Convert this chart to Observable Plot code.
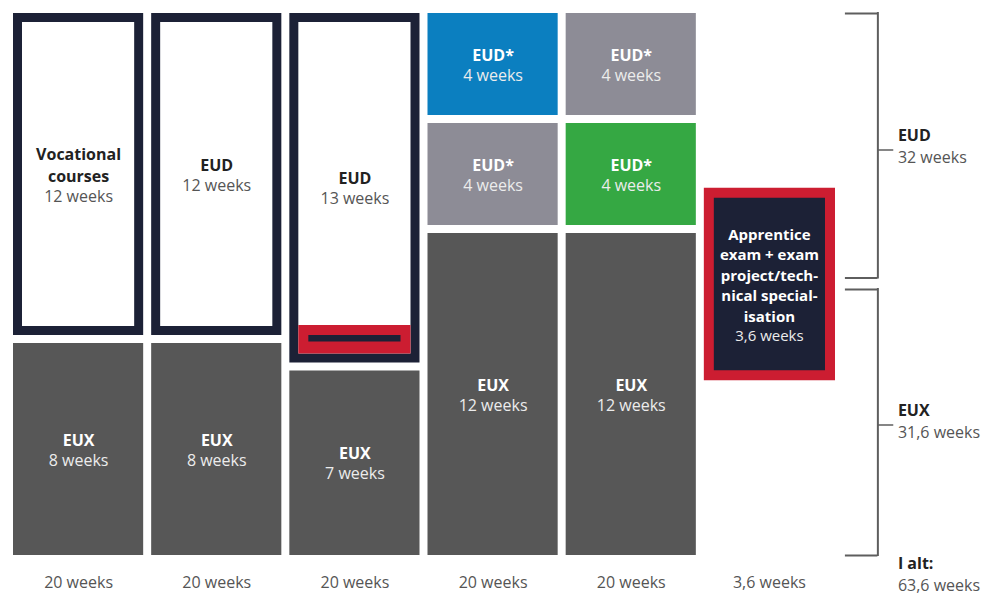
<!DOCTYPE html>
<html><head><meta charset="utf-8">
<script src="https://cdn.jsdelivr.net/npm/d3@7"></script>
<script src="https://cdn.jsdelivr.net/npm/@observablehq/plot@0.6"></script>
<style>body{margin:0;background:#fff} #chart{width:989px;height:601px}</style>
</head><body><div id="chart"></div>
<script>
// ---- data ----
const columnIndex  = [0, 1, 2, 3, 4, 5];
const columnTotals = ["20 weeks", "20 weeks", "20 weeks", "20 weeks", "20 weeks", "3,6 weeks"];

// stacked segments, listed bottom to top within each column
const segColumn = [0, 0, 1, 1, 2, 2, 3, 3, 3, 4, 4, 4];
const segWeeks  = [8, 12, 8, 12, 7, 13, 12, 4, 4, 12, 4, 4];
const segTitle  = ["EUX", "Vocational\ncourses", "EUX", "EUD", "EUX", "EUD", "EUX", "EUD*", "EUD*", "EUX", "EUD*", "EUD*"];
const segLabel  = ["8 weeks", "12 weeks", "8 weeks", "12 weeks", "7 weeks", "13 weeks", "12 weeks", "4 weeks", "4 weeks", "12 weeks", "4 weeks", "4 weeks"];
const segType   = ["EUX", "outline", "EUX", "outline", "EUX", "outline", "EUX", "grey", "blue", "EUX", "green", "grey"];

// exam week inside the 13-week EUD of column 3
const examColumn = 2;
const examWeeks = 1;

// apprentice exam box
const apprenticeColumn = 5;
const apprenticeTitle = "Apprentice\nexam + exam\nproject/tech-\nnical special-\nisation";
const apprenticeLabel = "3,6 weeks";

// brackets on the right
const bracketTitle = ["EUD", "EUX"];
const bracketLabel = ["32 weeks", "31,6 weeks"];
const bracketFrom  = [10, 0];
const bracketTo    = [20, 10];
const totalTitle = "I alt:";
const totalLabel = "63,6 weeks";

// ---- styles ----
const NAVY = "#1c2136", RED = "#cc1d31";
const FILL = {EUX: "#575757", grey: "#8d8c96", blue: "#0b7fc0", green: "#35a843"};
const FS = 16, L = 22, LH = L / FS;
const FONT = "Open Sans";

// ---- build ----
const segments = segColumn.map((c, i) => ({col: c, weeks: segWeeks[i], title: segTitle[i], label: segLabel[i], type: segType[i]}));
const acc = {};
for (const s of segments) { s.y1 = acc[s.col] ?? 0; s.y2 = s.y1 + s.weeks; acc[s.col] = s.y2; }
const filled = segments.filter(s => s.type !== "outline");
const outlined = segments.filter(s => s.type === "outline");
const examSeg = outlined.find(s => s.col === examColumn);
const exam = [{col: examColumn, y1: examSeg.y1, y2: examSeg.y1 + examWeeks}];
const colTotal = acc[0];
const app = [{col: apprenticeColumn, y1: colTotal / 2 - 3.5, y2: colTotal / 2 + 3.5}];

const X = d => d.col, X2 = d => d.col + 1, XC = d => d.col + 0.5, YC = d => (d.y1 + d.y2) / 2;

const marks = [
  Plot.rect(filled, {x1: X, x2: X2, y1: "y1", y2: "y2", fill: d => FILL[d.type], inset: 4}),
  Plot.rect(outlined, {x1: X, x2: X2, y1: "y1", y2: "y2", fill: NAVY, inset: 4}),
  Plot.rect(outlined, {x1: X, x2: X2, y1: "y1", y2: "y2", fill: "#fff", inset: 13}),
  Plot.rect(exam, {x1: X, x2: X2, y1: "y1", y2: "y2", fill: RED, insetLeft: 13, insetRight: 13, insetBottom: 13, insetTop: -14}),
  Plot.rect(exam, {x1: X, x2: X2, y1: "y1", y2: "y2", fill: NAVY, insetLeft: 23, insetRight: 23, insetBottom: 25, insetTop: -4}),
  Plot.rect(app, {x1: X, x2: X2, y1: "y1", y2: "y2", fill: RED, insetLeft: 4, insetRight: 3}),
  Plot.rect(app, {x1: X, x2: X2, y1: "y1", y2: "y2", fill: NAVY, insetLeft: 14, insetRight: 13, insetTop: 10, insetBottom: 10})
];

for (const s of segments) {
  const n = s.title.split("\n").length;
  const light = s.type !== "outline";
  marks.push(Plot.text([s], {x: XC, y: YC, text: "title", dy: -L / 2, lineAnchor: "middle", lineHeight: LH,
    fontSize: FS, fontWeight: 700, fontFamily: FONT, fill: light ? "#fff" : "#222"}));
  marks.push(Plot.text([s], {x: XC, y: YC, text: "label", dy: n * L / 2, lineAnchor: "middle",
    fontSize: FS, fontFamily: FONT, fill: light ? "#ececec" : "#555"}));
}
{
  const n = apprenticeTitle.split("\n").length;
  const FA = 15, LA = 20.5;
  marks.push(Plot.text(app, {x: XC, y: YC, text: () => apprenticeTitle, dy: -LA / 2, lineAnchor: "middle", lineHeight: LA / FA,
    fontSize: FA, fontWeight: 700, fontFamily: FONT, fill: "#fff"}));
  marks.push(Plot.text(app, {x: XC, y: YC, text: () => apprenticeLabel, dy: n * LA / 2, lineAnchor: "middle",
    fontSize: FA, fontFamily: FONT, fill: "#ececec"}));
}

// column totals below
marks.push(Plot.text(columnIndex, {x: d => d + 0.5, y: () => 0, text: d => columnTotals[d], dy: 23,
  fontSize: FS, fontFamily: FONT, fill: "#555"}));

// brackets
const BX0 = 6.05, BX = 6.285, BX1 = 6.4, BT = 6.43;
const BR = "#5e5e5e";
const gapTop = [4, 5], gapBottom = [6.5, 4];
bracketTitle.forEach((t, i) => {
  const b = [{y1: bracketFrom[i], y2: bracketTo[i], title: t, label: bracketLabel[i]}];
  // rule insets apply top-first, so pass the upper end as y1
  marks.push(Plot.ruleX(b, {x: () => BX, y1: "y2", y2: "y1", stroke: BR, strokeWidth: 2, insetTop: gapTop[i] - 1, insetBottom: gapBottom[i] - 1}));
  marks.push(Plot.ruleY(b, {y: "y2", x1: () => BX0, x2: () => BX, stroke: BR, strokeWidth: 2, dy: gapTop[i]}));
  marks.push(Plot.ruleY(b, {y: "y1", x1: () => BX0, x2: () => BX, stroke: BR, strokeWidth: 2, dy: -gapBottom[i]}));
  marks.push(Plot.ruleY(b, {y: YC, x1: () => BX, x2: () => BX1, stroke: BR, strokeWidth: 1.5, dy: 3}));
  marks.push(Plot.text(b, {x: () => BT, y: YC, text: "title", dy: -L / 2, textAnchor: "start",
    fontSize: FS, fontWeight: 700, fontFamily: FONT, fill: "#222"}));
  marks.push(Plot.text(b, {x: () => BT, y: YC, text: "label", dy: L / 2, textAnchor: "start",
    fontSize: FS, fontFamily: FONT, fill: "#555"}));
});
marks.push(Plot.text([totalTitle], {x: () => BT, y: () => 0, text: d => d, dy: 4, textAnchor: "start",
  fontSize: FS, fontWeight: 700, fontFamily: FONT, fill: "#222"}));
marks.push(Plot.text([totalLabel], {x: () => BT, y: () => 0, text: d => d, dy: 26, textAnchor: "start",
  fontSize: FS, fontFamily: FONT, fill: "#555"}));

const chart = Plot.plot({
  width: 989, height: 601,
  marginLeft: 9, marginRight: 151, marginTop: 9, marginBottom: 42,
  x: {domain: [0, 6], axis: null},
  y: {domain: [0, 20], axis: null},
  color: {type: "identity"},
  style: {fontFamily: FONT, background: "#fff"},
  marks
});
document.getElementById("chart").append(chart);
</script>
</body></html>
